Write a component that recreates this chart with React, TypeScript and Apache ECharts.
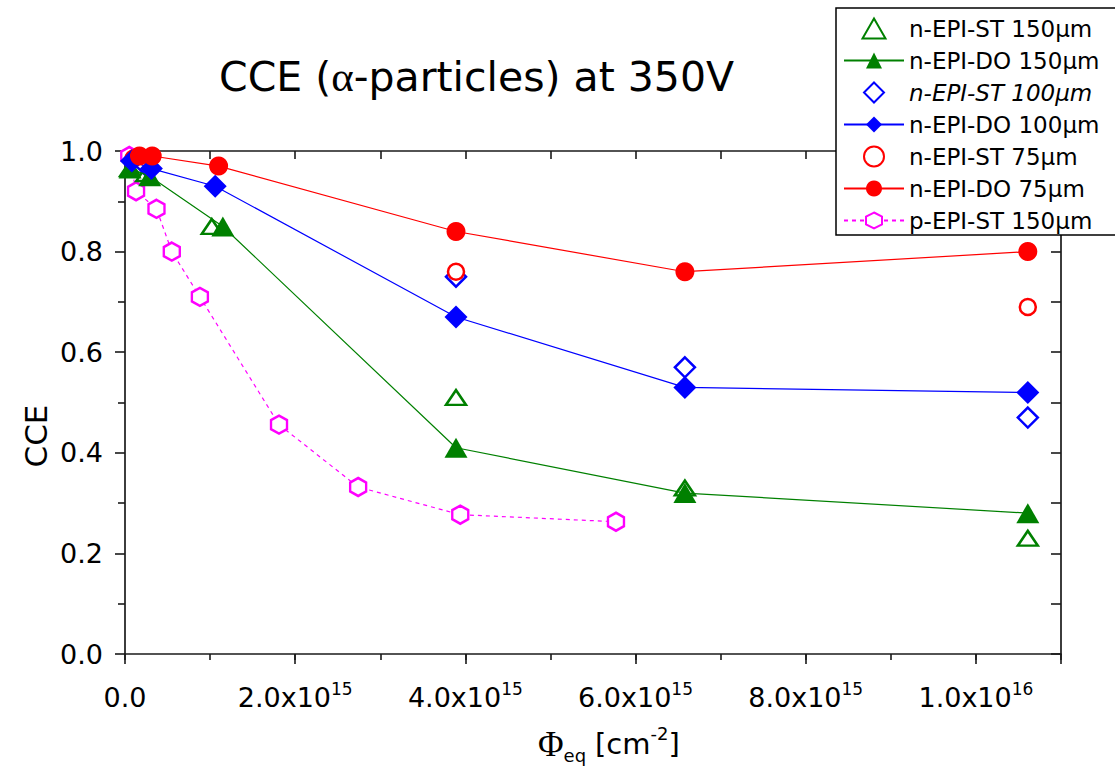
import React, { useEffect, useRef } from 'react';
import * as echarts from 'echarts';

const FONT = 'DejaVu Sans';
const SERIF = 'Liberation Serif';

const GREEN = '#008000';
const BLUE = '#0000ff';
const RED = '#ff0000';
const MAGENTA = '#ff00ff';

// Fluence in units of 1e15 cm^-2, CCE as a fraction of full collection
const nEpiSt150: [number, number][] = [
  [0.06, 0.965], [0.25, 0.955], [1.02, 0.85], [3.89, 0.51], [6.58, 0.33], [10.61, 0.23],
];
const nEpiDo150: [number, number][] = [
  [0.06, 0.965], [0.29, 0.95], [1.15, 0.85], [3.89, 0.41], [6.58, 0.32], [10.61, 0.28],
];
const nEpiSt100: [number, number][] = [
  [0.08, 0.98], [0.25, 0.97], [3.89, 0.75], [6.58, 0.57], [10.61, 0.47],
];
const nEpiDo100: [number, number][] = [
  [0.08, 0.98], [0.31, 0.965], [1.06, 0.93], [3.89, 0.67], [6.58, 0.53], [10.61, 0.52],
];
const nEpiSt75: [number, number][] = [
  [0.1, 0.985], [3.89, 0.76], [10.61, 0.69],
];
const nEpiDo75: [number, number][] = [
  [0.17, 0.99], [0.32, 0.99], [1.1, 0.97], [3.89, 0.84], [6.58, 0.76], [10.61, 0.8],
];
const pEpiSt150: [number, number][] = [
  [0.05, 0.99], [0.13, 0.92], [0.37, 0.885], [0.55, 0.8], [0.88, 0.71],
  [1.81, 0.456], [2.74, 0.332], [3.94, 0.277], [5.77, 0.263],
];

const seriesNames = [
  'n-EPI-ST 150µm',
  'n-EPI-DO 150µm',
  'n-EPI-ST 100µm',
  'n-EPI-DO 100µm',
  'n-EPI-ST 75µm',
  'n-EPI-DO 75µm',
  'p-EPI-ST 150µm',
];

const X_MIN = 0;
const X_MAX = 11;
const Y_MIN = 0;
const Y_MAX = 1;

// Outline markers as paths so that their aspect ratio is kept in the legend too
const HEXAGON = 'path://M0,-10 L8.66,-5 L8.66,5 L0,10 L-8.66,5 L-8.66,-5 Z';
const TRIANGLE = 'path://M0,-10 L11.5,10 L-11.5,10 Z';
const DIAMOND = 'path://M0,-10 L10,0 L0,10 L-10,0 Z';
const CIRCLE = 'path://M10,0 A10,10 0 1,1 -10,0 A10,10 0 1,1 10,0 Z';

const AXIS_COLOR = '#1a1a1a';

function fluenceLabel(v: number): string {
  const r = Math.round(v * 1000) / 1000;
  if (r === 0) return '{b|0.0}';
  if (r % 2 !== 0 || r > 10) return '';
  const exp = r >= 10 ? 16 : 15;
  const mant = r >= 10 ? r / 10 : r;
  return `{b|${mant.toFixed(1)}x10}{s|${exp}}`;
}

const tickRich = {
  b: { fontSize: 27, lineHeight: 34, fontFamily: FONT, color: '#000' },
  s: { fontSize: 17, lineHeight: 18, fontFamily: FONT, color: '#000', verticalAlign: 'top' },
};

function openStyle(color: string) {
  return { color: '#fff', borderColor: color, borderWidth: 2.5, opacity: 1 };
}

export default function App() {
  const ref = useRef<HTMLDivElement>(null);

  useEffect(() => {
    if (!ref.current) return;
    const chart = echarts.init(ref.current, null, { renderer: 'svg' });

    const axisLine = { show: true, onZero: false, lineStyle: { color: AXIS_COLOR, width: 1.7 } };
    const tickLine = { color: AXIS_COLOR, width: 1.6 };

    chart.setOption({
      animation: false,
      backgroundColor: '#fff',
      title: {
        text: 'CCE ({a|α}-particles) at 350V',
        left: 219,
        top: 55,
        padding: 0,
        textStyle: {
          fontSize: 41,
          fontWeight: 'normal',
          fontFamily: FONT,
          color: '#000',
          rich: { a: { fontSize: 43, fontFamily: SERIF, color: '#000' } },
        },
      },
      grid: { left: 125, right: 54, top: 151, bottom: 112, containLabel: false },
      legend: {
        orient: 'vertical',
        left: 843,
        top: 17,
        padding: 0,
        itemWidth: 60,
        itemHeight: 20,
        itemGap: 9,
        symbolKeepAspect: true,
        selectedMode: false,
        z: 60,
        data: seriesNames,
        formatter: (name: string) => (name === 'n-EPI-ST 100µm' ? `{it|${name}}` : name),
        textStyle: {
          fontSize: 23,
          lineHeight: 20,
          fontFamily: FONT,
          color: '#000',
          rich: { it: { fontSize: 23, lineHeight: 20, fontFamily: FONT, fontStyle: 'italic', color: '#000' } },
        },
      },
      xAxis: [
        {
          // bottom axis: labels and short ticks every 1e15
          type: 'value',
          position: 'bottom',
          min: X_MIN,
          max: X_MAX,
          interval: 1,
          axisLine,
          axisTick: { show: true, inside: false, length: 6, lineStyle: tickLine },
          axisLabel: { interval: 0, margin: 26, formatter: fluenceLabel, rich: tickRich },
          splitLine: { show: false },
        },
        {
          // bottom axis: long ticks every 2e15
          type: 'value',
          position: 'bottom',
          min: X_MIN,
          max: X_MAX,
          interval: 2,
          axisLine: { show: false },
          axisTick: { show: true, inside: false, length: 10, lineStyle: tickLine },
          axisLabel: { show: false },
          splitLine: { show: false },
        },
        {
          // top frame with inward ticks
          type: 'value',
          position: 'top',
          min: X_MIN,
          max: X_MAX,
          interval: 1,
          axisLine,
          axisTick: { show: true, inside: true, length: 8, lineStyle: tickLine },
          axisLabel: { show: false },
          splitLine: { show: false },
        },
      ],
      yAxis: [
        {
          type: 'value',
          position: 'left',
          min: Y_MIN,
          max: Y_MAX,
          interval: 0.2,
          axisLine,
          axisTick: { show: true, inside: false, length: 10, lineStyle: tickLine },
          minorTick: { show: true, splitNumber: 2, length: 7, lineStyle: tickLine },
          axisLabel: {
            margin: 22,
            fontSize: 27,
            fontFamily: FONT,
            color: '#000',
            formatter: (v: number) => v.toFixed(1),
          },
          splitLine: { show: false },
        },
        {
          type: 'value',
          position: 'right',
          min: Y_MIN,
          max: Y_MAX,
          interval: 0.2,
          axisLine,
          axisTick: { show: true, inside: true, length: 10, lineStyle: tickLine },
          minorTick: { show: true, splitNumber: 2, length: 10, lineStyle: tickLine },
          axisLabel: { show: false },
          splitLine: { show: false },
        },
      ],
      graphic: [
        {
          type: 'rect',
          z: 50,
          shape: { x: 836, y: 8, width: 320, height: 227 },
          style: { fill: '#fff', stroke: '#000', lineWidth: 1.5 },
        },
        {
          type: 'text',
          x: 36,
          y: 436,
          rotation: Math.PI / 2,
          style: {
            text: 'CCE',
            fontSize: 31,
            fontFamily: FONT,
            fill: '#000',
            align: 'center',
            verticalAlign: 'middle',
          },
        },
        {
          type: 'text',
          x: 538,
          y: 724,
          style: {
            text: '{phi|Φ}{sub|eq} {n|[cm}{sup|-2}{n|]}',
            fill: '#000',
            fontFamily: FONT,
            fontSize: 28,
            rich: {
              phi: { fontSize: 35, lineHeight: 40, fontFamily: SERIF, fill: '#000' },
              sub: { fontSize: 18, lineHeight: 17, fontFamily: FONT, verticalAlign: 'bottom', fill: '#000' },
              n: { fontSize: 29, lineHeight: 40, fontFamily: FONT, fill: '#000' },
              sup: { fontSize: 18, lineHeight: 17, fontFamily: FONT, verticalAlign: 'top', fill: '#000' },
            },
          },
        },
      ],
      series: [
        {
          name: seriesNames[0],
          type: 'scatter',
          data: nEpiSt150,
          symbol: TRIANGLE,
          symbolSize: [20, 17],
          symbolKeepAspect: true,
          itemStyle: openStyle(GREEN),
        },
        {
          name: seriesNames[1],
          type: 'line',
          data: nEpiDo150,
          symbol: 'triangle',
          symbolSize: [23, 20],
          itemStyle: { color: GREEN, borderWidth: 0 },
          lineStyle: { color: GREEN, width: 1.2 },
        },
        {
          name: seriesNames[2],
          type: 'scatter',
          data: nEpiSt100,
          symbol: DIAMOND,
          symbolSize: 20,
          symbolKeepAspect: true,
          itemStyle: openStyle(BLUE),
        },
        {
          name: seriesNames[3],
          type: 'line',
          data: nEpiDo100,
          symbol: 'diamond',
          symbolSize: 23,
          itemStyle: { color: BLUE, borderWidth: 0 },
          lineStyle: { color: BLUE, width: 1.2 },
        },
        {
          name: seriesNames[4],
          type: 'scatter',
          data: nEpiSt75,
          symbol: CIRCLE,
          symbolSize: 16,
          symbolKeepAspect: true,
          itemStyle: openStyle(RED),
        },
        {
          name: seriesNames[5],
          type: 'line',
          data: nEpiDo75,
          symbol: 'circle',
          symbolSize: 19,
          itemStyle: { color: RED, borderWidth: 0 },
          lineStyle: { color: RED, width: 1.2 },
        },
        {
          name: seriesNames[6],
          type: 'line',
          z: 1,
          data: pEpiSt150,
          symbol: HEXAGON,
          symbolSize: [16, 18],
          itemStyle: openStyle(MAGENTA),
          lineStyle: { color: MAGENTA, width: 1.2, type: [4, 4] },
        },
      ],
    });

    return () => chart.dispose();
  }, []);

  return (
    <div
      ref={ref}
      style={{ position: 'fixed', left: 0, top: 0, width: 1115, height: 766, background: '#fff' }}
    />
  );
}
